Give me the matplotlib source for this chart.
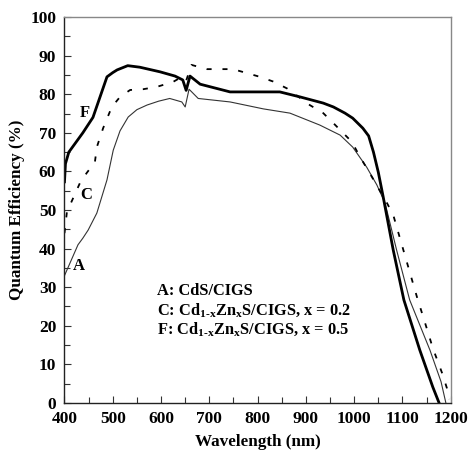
import matplotlib
matplotlib.use("Agg")
import matplotlib.pyplot as plt
from matplotlib.ticker import MultipleLocator

plt.rcParams['font.family'] = ['Liberation Serif', 'DejaVu Serif']
plt.rcParams['font.weight'] = 'bold'
plt.rcParams['mathtext.fontset'] = 'custom'
plt.rcParams['mathtext.rm'] = 'Liberation Serif:bold'
plt.rcParams['mathtext.bf'] = 'Liberation Serif:bold'

# Curve A: CdS/CIGS
wl_A = [400, 428, 438, 449, 467, 488, 501, 515, 532, 550, 571, 595, 618, 643, 650, 658, 677,
        743, 812, 867, 929, 971, 997, 1026, 1047, 1064, 1088, 1115, 1157, 1180, 1190]
qe_A = [33, 41, 42.7, 44.8, 49.2, 57.8, 65.5, 70.5, 74.1, 76.0, 77.2, 78.2, 78.9, 78.0, 76.7, 81.3, 78.9,
        78.0, 76.2, 75.1, 72.0, 69.4, 66.3, 61.1, 56.5, 51.8, 39.6, 26.7, 13.7, 5.5, 0]

# Curve C: Cd1-xZnxS/CIGS, x = 0.2
wl_C = [400, 405, 432, 446, 463, 467, 480, 498, 515, 536, 563, 591, 625, 643, 652,
        663, 695, 749, 777, 805, 832, 861, 908, 936, 957, 995, 1012, 1032, 1068,
        1081, 1105, 1130, 1147, 1163, 1182, 1192, 1197]
qe_C = [44, 49.5, 57, 59.6, 62.4, 66.3, 71.2, 76.7, 79.3, 81.1, 81.3, 81.9, 83.2, 84.5, 83.5,
        87.6, 86.5, 86.5, 85.5, 84.5, 83.3, 81.5, 77.2, 75.1, 72.5, 67.7, 63.8, 59.6, 51.8,
        48.7, 38.3, 27.5, 20.7, 14.2, 7.8, 3.9, 1.0]

# Curve F: Cd1-xZnxS/CIGS, x = 0.5
wl_F = [400, 402, 409, 438, 459, 488, 500, 509, 531, 556, 598, 629, 645, 652, 660, 681,
        743, 846, 888, 936, 957, 981, 997, 1018, 1030, 1040, 1050, 1060, 1081, 1103,
        1136, 1163, 1176]
qe_F = [57.3, 62, 65, 70, 74, 84.5, 85.6, 86.3, 87.4, 87.0, 85.8, 84.7, 83.7, 81.0, 84.7, 82.6,
        80.6, 80.6, 79.3, 77.7, 76.7, 75.1, 73.8, 71.2, 69.2, 65.0, 59.8, 53.5, 39.6, 26.7,
        13.7, 4.1, 0]

legend_lines = [r"A: CdS/CIGS",
                r"C: Cd$_{\mathregular{1\text{-}x}}$Zn$_{\mathregular{x}}$S/CIGS, x = 0.2",
                r"F: Cd$_{\mathregular{1\text{-}x}}$Zn$_{\mathregular{x}}$S/CIGS, x = 0.5"]

fig = plt.figure(figsize=(4.69, 4.53), dpi=100)
ax = fig.add_axes([0.1375, 0.1104, 0.8235, 0.852])

ax.plot(wl_A, qe_A, color='#333333', lw=0.8)
ax.plot(wl_C, qe_C, color='black', lw=1.3, linestyle=(0, (2.8, 6)))
ax.plot(wl_F, qe_F, color='black', lw=2.0)

ax.set_xlim(400, 1200)
ax.set_ylim(0, 100)
ax.xaxis.set_major_locator(MultipleLocator(100))
ax.xaxis.set_minor_locator(MultipleLocator(50))
ax.yaxis.set_major_locator(MultipleLocator(10))
ax.yaxis.set_minor_locator(MultipleLocator(5))
ax.tick_params(which='both', direction='in', top=False, right=False,
               labelsize=12.5, width=0.8, color='#333333')
ax.tick_params(which='major', length=5, pad=6)
ax.tick_params(which='minor', length=4)
for lab in ax.get_xticklabels() + ax.get_yticklabels():
    lab.set_fontweight('bold')

for s in ['top', 'right']:
    ax.spines[s].set_color('#888888')
for s in ['left', 'bottom']:
    ax.spines[s].set_color('#222222')
for s in ax.spines.values():
    s.set_linewidth(1.0)

ax.set_xlabel("Wavelength (nm)", fontsize=12.3, fontweight='bold', labelpad=5)
ax.set_ylabel("Quantum Efficiency (%)", fontsize=12.3, fontweight='bold', labelpad=4)

ax.text(442, 75.1, "F", fontsize=12, fontweight='bold', ha='center', va='center')
ax.text(444, 53.9, "C", fontsize=12, fontweight='bold', ha='center', va='center')
ax.text(430, 35.5, "A", fontsize=12, fontweight='bold', ha='center', va='center')

ys = [29.0, 23.8, 18.9]
for t, y in zip(legend_lines, ys):
    ax.text(592, y, t, fontsize=11.8, fontweight='bold', ha='left', va='center')

fig.savefig("out.png", dpi=100)
